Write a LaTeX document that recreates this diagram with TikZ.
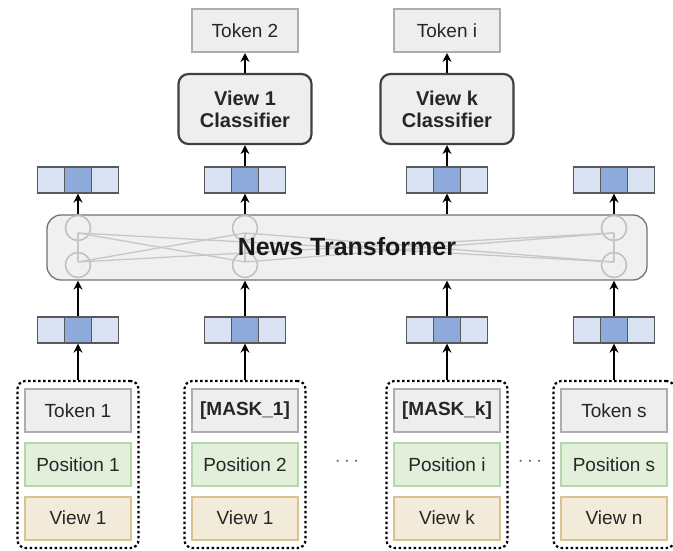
\documentclass[tikz,border=0pt]{standalone}
\usepackage{fontspec}
\setmainfont{Liberation Sans}
\usetikzlibrary{arrows.meta}

\definecolor{vecLight}{HTML}{DAE3F3}
\definecolor{vecMid}{HTML}{8EAADB}
\definecolor{boxGray}{HTML}{EEEEEE}
\definecolor{edgeGray}{HTML}{ADADAD}
\definecolor{posFill}{HTML}{E2EFDA}
\definecolor{posLine}{HTML}{B6D7A8}
\definecolor{viewFill}{HTML}{F2EBDA}
\definecolor{viewLine}{HTML}{D8C38F}
\definecolor{tfFill}{HTML}{F0F0F0}

\tikzset{
  vecbox/.style={draw=black!65, line width=1.3pt, fill=vecLight, minimum width=81pt, minimum height=26pt, inner sep=0pt,
    path picture={\draw[black!65, line width=1.3pt, fill=vecMid]
      ([xshift=-13.5pt]path picture bounding box.south) rectangle ([xshift=13.5pt]path picture bounding box.north);}},
  tokbox/.style={draw=edgeGray, line width=2pt, fill=boxGray, minimum width=106pt, minimum height=43pt, inner sep=0pt,
    text=black!85, font=\fontsize{19}{22}\selectfont},
  posbox/.style={tokbox, draw=posLine, fill=posFill},
  viewbox/.style={tokbox, draw=viewLine, fill=viewFill},
  clsbox/.style={draw=black!75, line width=2.2pt, rounded corners=10pt, fill=boxGray, minimum width=133pt, minimum height=70pt,
    align=center, text=black!85, font=\bfseries\fontsize{20}{22}\selectfont},
  grpbox/.style={draw=black, line width=2.2pt, dash pattern=on 2.5pt off 2.5pt, rounded corners=8pt, minimum width=121pt, minimum height=167pt},
  tfbox/.style={draw=black!55, line width=1.3pt, rounded corners=14pt, fill=tfFill, minimum width=600pt, minimum height=65pt},
  attn/.style={draw=black!25, line width=1.5pt, circle, minimum size=25pt, inner sep=0pt},
  link/.style={black!22, line width=1.3pt},
  dotsnode/.style={text=black!60, font=\fontsize{20}{22}\selectfont},
  arr/.style={-{Stealth[length=9pt,width=9pt]}, line width=2pt},
}

\begin{document}
\begin{tikzpicture}[x=1pt, y=-1pt]
  \useasboundingbox (0,0) rectangle (673,551);

  % Transformer block
  \node[tfbox] (tf) at (347,247.5) {};
  \foreach \n/\x in {1/78, 2/245, 4/614} {
    \node[attn] (c\n t) at (\x,228) {};
    \node[attn] (c\n b) at (\x,265) {};
    \coordinate (a\n t) at (\x,233);
    \coordinate (a\n b) at (\x,262);
    \draw[link] (a\n t) -- (a\n b);
  }
  \foreach \p/\q in {1/2, 1/4, 2/4} {
    \draw[link] (a\p t) -- (a\q b);
    \draw[link] (a\p b) -- (a\q t);
  }
  \node[font=\bfseries\fontsize{25}{28}\selectfont, text=black!90] (tflabel) at (347,247) {News Transformer};

  % Input columns
  \foreach \n/\x/\tok/\pos/\view in {1/78/{Token 1}/Position 1/View 1,
      2/245/{\textbf{[MASK\_1]}}/Position 2/View 1,
      3/447/{\textbf{[MASK\_k]}}/Position i/View k,
      4/614/{Token s}/Position s/View n} {
    \node[grpbox] (g\n) at (\x,464.5) {};
    \node[tokbox] (t\n) at (\x,410.5) {\tok};
    \node[posbox] (p\n) at (\x,464.5) {\pos};
    \node[viewbox] (w\n) at (\x,518) {\view};
    \node[vecbox] (vi\n) at (\x,330) {};
    \node[vecbox] (vo\n) at (\x,180) {};
    \draw[arr] (g\n.north) -- (vi\n.south);
    \draw[arr] (vi\n.north) -- (vi\n.north |- tf.south);
    \draw[arr] (vo\n.south |- tf.north) -- (vo\n.south);
  }

  % Dots between columns
  \node[dotsnode] (dots1) at (347,462) {$\cdots$};
  \node[dotsnode] (dots2) at (530,462) {$\cdots$};

  % Classifiers and outputs
  \node[clsbox] (cls1) at (245,109) {View 1\\Classifier};
  \node[clsbox] (clsk) at (447,109) {View k\\Classifier};
  \node[tokbox] (out1) at (245,30.5) {Token 2};
  \node[tokbox] (outk) at (447,30.5) {Token i};
  \draw[arr] (vo2.north) -- (cls1.south);
  \draw[arr] (vo3.north) -- (clsk.south);
  \draw[arr] (cls1.north) -- (out1.south);
  \draw[arr] (clsk.north) -- (outk.south);
\end{tikzpicture}
\end{document}
